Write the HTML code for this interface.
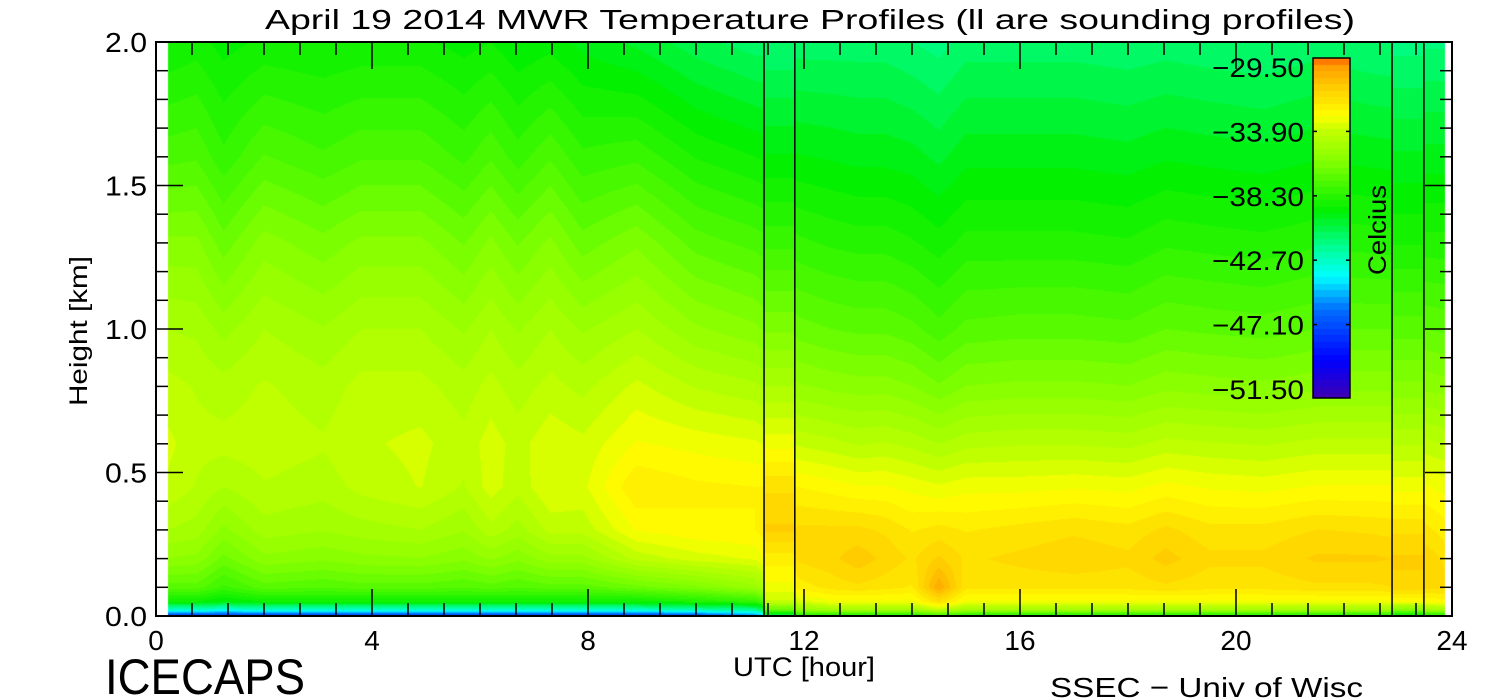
<!DOCTYPE html>
<html><head><meta charset="utf-8"><style>
body{margin:0;background:#fff;width:1500px;height:700px;overflow:hidden;position:relative}
canvas{position:absolute;left:0;top:0}
svg{position:absolute;left:0;top:0}
text{font-family:"Liberation Sans",sans-serif;fill:#000}
</style></head><body>
<canvas id="cv" width="1500" height="700"></canvas>
<svg id="sv" width="1500" height="700"></svg>
<script>
// ---- data ----
const heights = [0, 0.02, 0.05, 0.1, 0.2, 0.3, 0.45, 0.6, 0.8, 1.0, 1.3, 1.6, 2.0];
const times = [0.22,0.75,1.25,2,3.1,3.8,4.9,5.7,6.2,6.7,7.3,7.9,8.9,10,11.1,11.9,12.5,13,13.5,14,14.5,15,16,17,18,18.7,19.5,20.5,21.5,22.5,23.5,23.87];
const temps = [
[-48,-43,-39,-37,-35.5,-34.6,-33.8,-33.6,-34,-34.6,-35.8,-37.4,-39],
[-48,-43,-39,-37,-35.6,-34.8,-34.2,-34,-34.2,-34.7,-35.8,-37.3,-38.8],
[-48,-43.5,-39.5,-37.8,-36.5,-35.6,-34.6,-34,-34.4,-35.2,-36.6,-38,-39.2],
[-48,-43,-39,-37,-35.6,-34.8,-34.2,-33.9,-34.1,-34.6,-35.7,-37.2,-38.9],
[-48,-43,-39,-37.2,-35.8,-35,-34.4,-34.1,-34.4,-35,-36.2,-37.6,-39],
[-48,-43,-39,-37,-35.6,-34.8,-34,-33.8,-34,-34.6,-35.8,-37.3,-38.9],
[-48,-43,-39,-37,-35.5,-34.6,-33.7,-33.6,-34,-34.6,-35.8,-37.3,-38.9],
[-48,-43,-39,-37.2,-35.8,-35,-34.2,-34,-34.4,-35.1,-36.4,-37.8,-39.2],
[-48,-43,-39,-37,-35.4,-34.3,-33.5,-33.5,-34,-34.6,-35.8,-37.3,-39],
[-48,-43,-39,-37.2,-35.8,-34.8,-34,-33.9,-34.4,-35.1,-36.4,-37.9,-39.4],
[-48,-43,-39,-37,-35.2,-34,-33.3,-33.4,-34,-34.6,-35.8,-37.3,-39.2],
[-48,-43,-39,-37,-35.2,-34,-33.4,-33.6,-34.3,-35.1,-36.6,-38,-39.6],
[-48,-43,-39,-36.5,-34,-32.8,-32,-32.8,-33.6,-34.6,-36,-37.8,-40],
[-47.5,-42.5,-38.5,-36,-33.5,-32.5,-32.3,-33,-34.2,-35.4,-37,-38.6,-40.6],
[-46,-42,-38,-35.2,-33.2,-32.4,-32.4,-33.2,-34.5,-35.8,-37.4,-39,-41],
[-39,-35.5,-33.5,-32.2,-31.4,-31.4,-32.4,-33.8,-35.4,-36.6,-38,-39.4,-41],
[-39,-35,-33,-31.8,-31.2,-31.4,-32.6,-34,-35.6,-36.8,-38.2,-39.5,-41],
[-39,-35,-33,-31.6,-30.8,-31.4,-32.8,-34.2,-35.7,-36.9,-38.3,-39.6,-41],
[-39,-35,-33,-31.8,-31.2,-31.6,-32.8,-34.1,-35.7,-36.9,-38.3,-39.6,-41],
[-39,-35,-33,-32,-31.6,-32,-33,-34.3,-35.9,-37.1,-38.5,-39.7,-41.2],
[-38,-34,-31.6,-29.8,-31,-31.8,-33.2,-34.6,-36.3,-37.5,-38.8,-40,-41.4],
[-39,-35,-33,-31.8,-31.6,-32,-33,-34.3,-35.9,-37.1,-38.4,-39.6,-41],
[-39,-35,-33,-31.8,-31.4,-31.8,-33,-34.2,-35.8,-37,-38.4,-39.6,-41],
[-39,-35,-33,-31.8,-31.2,-31.6,-32.9,-34.2,-35.8,-37,-38.4,-39.6,-41],
[-39,-35,-33,-31.8,-31.4,-31.8,-33,-34.3,-35.9,-37.1,-38.5,-39.7,-41.1],
[-39,-35,-33,-31.6,-30.9,-31.4,-32.7,-34,-35.6,-36.8,-38.2,-39.5,-41],
[-39,-35,-33,-31.8,-31.4,-31.8,-32.9,-34.1,-35.7,-36.9,-38.3,-39.6,-41.1],
[-39,-35,-33,-31.8,-31.4,-31.8,-33,-34.2,-35.8,-37,-38.4,-39.7,-41.2],
[-39,-35,-33,-31.6,-31,-31.5,-32.8,-34,-35.6,-36.8,-38.2,-39.5,-41],
[-39,-35,-33,-31.6,-31,-31.6,-32.8,-34,-35.6,-36.8,-38.3,-39.6,-41.2],
[-39,-35,-32.8,-31.4,-31.2,-31.8,-32.8,-34,-35.6,-36.8,-38.4,-39.7,-41.3],
[-39,-35,-32.6,-31.4,-31.6,-32.2,-33,-34.2,-35.7,-36.9,-38.4,-39.7,-41.3]
];
const sounding1Times = [11.26, 11.83];
const sounding1 = [-41,-37,-33.8,-33,-32.2,-31,-31.6,-33,-34.6,-36,-37.8,-39.4,-41.2];
const sounding2Times = [22.89, 23.48];
const sounding2 = [-40,-36,-32.8,-31.2,-31,-31.6,-33,-34.2,-35.8,-37,-38.6,-39.8,-41.4];
const xTicks = [0,4,8,12,16,20,24];
const yTicks = [0.0,0.5,1.0,1.5,2.0];
const cbLabels = ["-29.50","-33.90","-38.30","-42.70","-47.10","-51.50"];
const cbValues = [-29.5,-33.9,-38.3,-42.7,-47.1,-51.5];

// ---- axes ----
const X0=156, X1=1452, Y0=616, Y1=42;
const xs = t => X0 + (t/24)*(X1-X0);
const ys = h => Y0 - (h/2)*(Y0-Y1);
const CBT=-29.5, CBB=-51.5, CBY0=67, CBY1=389;
const cy = v => CBY1 + (v-CBB)/(CBT-CBB)*(CBY0-CBY1);

const stops=[[-52.2,[64,0,176]],[-49.5,[0,0,255]],[-46,[0,112,255]],[-43.8,[0,255,255]],[-42,[0,255,160]],[-39.3,[0,240,0]],[-36,[128,255,0]],[-33.9,[192,255,0]],[-32.8,[255,255,0]],[-31,[255,208,0]],[-29.5,[255,160,0]],[-28.8,[255,96,0]]];
function col(v){
  if(v<=stops[0][0])return stops[0][1];
  for(let i=1;i<stops.length;i++){ if(v<=stops[i][0]){const a=stops[i-1],b=stops[i];const f=(v-a[0])/(b[0]-a[0]);return a[1].map((c,k)=>Math.round(c+(b[1][k]-c)*f));}}
  return stops[stops.length-1][1];
}
const STEP=0.44;
function qcol(v){const l=Math.floor((v+52.2)/STEP);return col(-52.2+(l+0.5)*STEP);}
function profAt(p,h){
  for(let i=1;i<heights.length;i++){ if(h<=heights[i]){const f=(h-heights[i-1])/(heights[i]-heights[i-1]);return p[i-1]+(p[i]-p[i-1])*f;}}
  return p[p.length-1];
}
function valAt(t,h){
  if(t>=sounding1Times[0]&&t<sounding1Times[1])return profAt(sounding1,h);
  if(t>=sounding2Times[0]&&t<sounding2Times[1])return profAt(sounding2,h);
  let i=1;while(i<times.length-1&&t>times[i])i++;
  const f=Math.max(0,Math.min(1,(t-times[i-1])/(times[i]-times[i-1])));
  return profAt(temps[i-1],h)*(1-f)+profAt(temps[i],h)*f;
}
const ctx=document.getElementById('cv').getContext('2d');
const img=ctx.createImageData(1500,700);
const xa=Math.round(xs(times[0])), xb=Math.round(xs(times[times.length-1]));
for(let y=Y1;y<Y0;y++){
  const h=(Y0-y-0.5)/(Y0-Y1)*2;
  for(let x=xa;x<xb;x++){
    const t=(x+0.5-X0)/(X1-X0)*24;
    const c=qcol(valAt(t,h));
    const o=(y*1500+x)*4;img.data[o]=c[0];img.data[o+1]=c[1];img.data[o+2]=c[2];img.data[o+3]=255;
  }
}
// colorbar
for(let y=58;y<398;y++){const v=CBB+(y-CBY1)/(CBY0-CBY1)*(CBT-CBB);const c=qcol(v);
  for(let x=1313;x<1350;x++){const o=(y*1500+x)*4;img.data[o]=c[0];img.data[o+1]=c[1];img.data[o+2]=c[2];img.data[o+3]=255;}}
ctx.putImageData(img,0,0);

// ---- svg overlay ----
const NS='http://www.w3.org/2000/svg', sv=document.getElementById('sv');
function mk(tag,attrs,txt){const e=document.createElementNS(NS,tag);for(const k in attrs)e.setAttribute(k,attrs[k]);if(txt!==undefined)e.textContent=txt;sv.appendChild(e);return e;}
function ln(x1,y1,x2,y2,name){const e=mk('line',{x1,y1,x2,y2,stroke:'#000','stroke-width':1.5});

}
[sounding1Times[0],sounding1Times[1],sounding2Times[0],sounding2Times[1]].forEach(t=>{ln(xs(t),Y1,xs(t),Y0,'sounding-line');});
const fr=mk('rect',{x:X0,y:Y1,width:X1-X0,height:Y0-Y1,fill:'none',stroke:'#000','stroke-width':2});


for(let k=0;k<=36;k++){const t=k*24/36;const L=(k%6===0)?27:13;const x=xs(t);
  ln(x,Y0,x,Y0-L,'x-tick');ln(x,Y1,x,Y1+L,'x-tick-top');}
for(let k=0;k<=20;k++){const h=k*0.1;const L=(k%5===0)?27:12;const y=ys(h);
  ln(X0,y,X0+L,y,'y-tick');ln(X1,y,X1-L,y,'y-tick-right');}
xTicks.forEach(t=>{const e=mk('text',{x:xs(t),y:650,'font-size':28,'text-anchor':'middle'},String(t));

});
yTicks.forEach(h=>{const e=mk('text',{x:105,y:ys(h)+10,'font-size':28,textLength:42,lengthAdjust:'spacingAndGlyphs'},h.toFixed(1));

});
const cbf=mk('rect',{x:1313,y:58,width:37,height:340,fill:'none',stroke:'#000','stroke-width':1.5});


cbValues.forEach((v,i)=>{const y=cy(v);
  if(i>0&&i<5){ln(1313,y,1317,y,'colorbar-tick');ln(1350,y,1346,y,'colorbar-tick');}
  const e=mk('text',{x:1212,y:y+10,'font-size':27,textLength:92,lengthAdjust:'spacingAndGlyphs'},cbLabels[i].replace('-','\u2212'));
  
  });
function txt(s,a,name){const e=mk('text',a,s);return e;}
txt('April 19 2014 MWR Temperature Profiles (ll are sounding profiles)',{x:265,y:29,'font-size':28,textLength:1090,lengthAdjust:'spacingAndGlyphs'},'chart-title');
txt('Height [km]',{x:0,y:0,'font-size':25,textLength:150,lengthAdjust:'spacingAndGlyphs',transform:'translate(87,406) rotate(-90)'},'y-axis-title');
txt('Celcius',{x:0,y:0,'font-size':25,textLength:90,lengthAdjust:'spacingAndGlyphs',transform:'translate(1386,275) rotate(-90)'},'colorbar-title');
txt('UTC [hour]',{x:733,y:676,'font-size':27,textLength:142,lengthAdjust:'spacingAndGlyphs'},'x-axis-title');
txt('ICECAPS',{x:105,y:694,'font-size':50,textLength:200,lengthAdjust:'spacingAndGlyphs'},'icecaps-label');
txt('SSEC \u2212 Univ of Wisc',{x:1050,y:697,'font-size':28,textLength:313,lengthAdjust:'spacingAndGlyphs'},'ssec-credit');
</script>
</body></html>
